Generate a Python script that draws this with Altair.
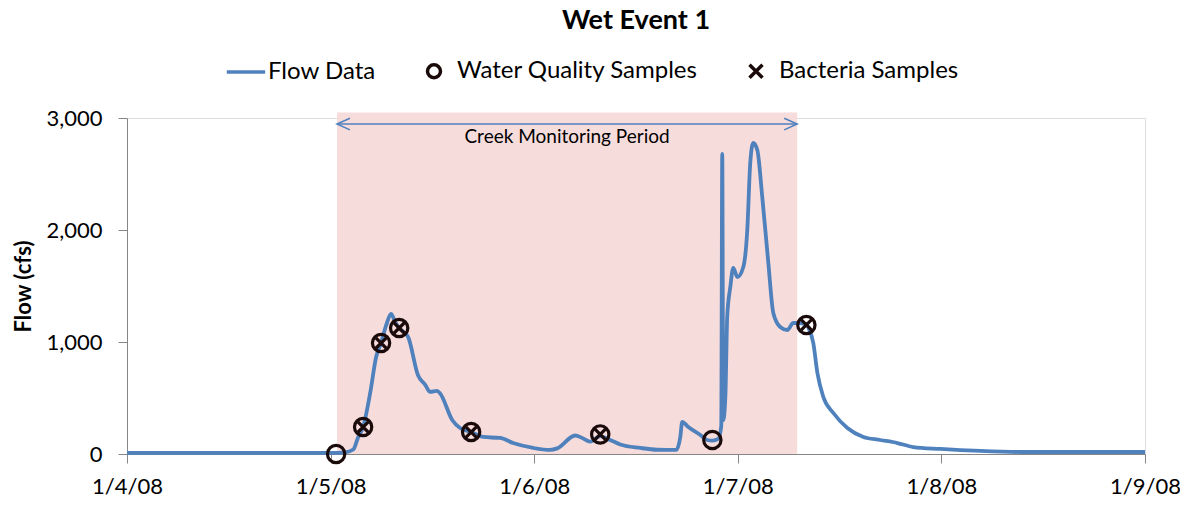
import altair as alt
import pandas as pd

# ---------------- data ----------------
flow_time = [
    "2008-01-04T00:00", "2008-01-04T12:00", "2008-01-05T00:00", "2008-01-05T01:42",
    "2008-01-05T02:40", "2008-01-05T03:15", "2008-01-05T03:50", "2008-01-05T04:40",
    "2008-01-05T05:22", "2008-01-05T05:57", "2008-01-05T06:33", "2008-01-05T07:08",
    "2008-01-05T07:36", "2008-01-05T08:05", "2008-01-05T09:08", "2008-01-05T10:19",
    "2008-01-05T11:08", "2008-01-05T11:44", "2008-01-05T12:33", "2008-01-05T12:55",
    "2008-01-05T14:20", "2008-01-05T15:16", "2008-01-05T16:34", "2008-01-05T17:59",
    "2008-01-05T19:59", "2008-01-05T21:31", "2008-01-05T23:53", "2008-01-06T01:53",
    "2008-01-06T02:43", "2008-01-06T04:50", "2008-01-06T05:40", "2008-01-06T06:36",
    "2008-01-06T07:47", "2008-01-06T08:57", "2008-01-06T10:09", "2008-01-06T12:30",
    "2008-01-06T14:30", "2008-01-06T16:45", "2008-01-06T17:13", "2008-01-06T17:27",
    "2008-01-06T18:10", "2008-01-06T19:35", "2008-01-06T20:24", "2008-01-06T21:00",
    "2008-01-06T21:42", "2008-01-06T22:03", "2008-01-06T22:10", "2008-01-06T22:17",
    "2008-01-06T22:32", "2008-01-06T22:45", "2008-01-06T23:07", "2008-01-06T23:28",
    "2008-01-06T23:57", "2008-01-07T00:39", "2008-01-07T01:07", "2008-01-07T01:28",
    "2008-01-07T01:49", "2008-01-07T02:18", "2008-01-07T02:53", "2008-01-07T03:36",
    "2008-01-07T04:11", "2008-01-07T05:00", "2008-01-07T05:50", "2008-01-07T06:33",
    "2008-01-07T08:05", "2008-01-07T08:18", "2008-01-07T08:54", "2008-01-07T09:23",
    "2008-01-07T10:05", "2008-01-07T11:16", "2008-01-07T12:55", "2008-01-07T14:48",
    "2008-01-07T16:48", "2008-01-07T18:49", "2008-01-07T20:41", "2008-01-07T23:53",
    "2008-01-08T04:36", "2008-01-08T09:19", "2008-01-08T16:24", "2008-01-09T00:00",
]
flow_cfs = [
    10, 10, 10, 15,
    40, 150, 241, 545,
    866, 991, 1150, 1250,
    1180, 1125, 1045, 700,
    620, 554, 563, 540,
    304, 232, 196, 152,
    143, 98, 54, 36,
    50, 165, 143, 110,
    160, 125, 85, 54,
    38, 36, 150, 286,
    241, 170, 125, 120,
    135, 250, 2680, 300,
    509, 1223, 1491, 1661,
    1580, 1670, 2000, 2598,
    2777, 2714, 2295, 1705,
    1259, 1134, 1107, 1170,
    1160, 1134, 991, 723,
    509, 366, 232, 152,
    125, 98, 62, 45,
    27, 18, 18, 18,
]

wq_time = ["2008-01-05T00:39", "2008-01-05T03:50", "2008-01-05T05:57", "2008-01-05T08:05",
           "2008-01-05T16:34", "2008-01-06T07:47", "2008-01-06T21:00", "2008-01-07T08:05"]
wq_cfs = [0, 241, 991, 1125, 196, 175, 125, 1152]

bact_time = ["2008-01-05T03:50", "2008-01-05T05:57", "2008-01-05T08:05",
             "2008-01-05T16:34", "2008-01-06T07:47", "2008-01-07T08:05"]
bact_cfs = [241, 991, 1125, 196, 175, 1152]

period_start = "2008-01-05T00:45"
period_end = "2008-01-07T07:00"
period_label = "Creek Monitoring Period"
period_arrow_cfs = 2946
period_text_cfs = 2830

series_names = ["Flow Data", "Water Quality Samples", "Bacteria Samples"]
series_colors = ["#4F81BD", "#1A0A0A", "#1A0A0A"]
X_PATH = "M-1,-1L1,1M1,-1L-1,1"
LINE_PATH = "M-2.8,0L3.1,0"
series_shapes = [LINE_PATH, "circle", X_PATH]

day_ticks = [alt.DateTime(year=2008, month=1, date=d) for d in range(4, 10)]

FONT = "Lato"

flow_df = pd.DataFrame({"t": flow_time, "cfs": flow_cfs, "series": "Flow Data"})
wq_df = pd.DataFrame({"t": wq_time, "cfs": wq_cfs, "series": "Water Quality Samples"})
bact_df = pd.DataFrame({"t": bact_time, "cfs": bact_cfs, "series": "Bacteria Samples"})
period_df = pd.DataFrame({"start": [period_start], "end": [period_end],
                          "y0": [0], "y1": [3050], "ya": [period_arrow_cfs],
                          "yt": [period_text_cfs], "label": [period_label]})

x_scale = alt.Scale(domain=[alt.DateTime(year=2008, month=1, date=4),
                            alt.DateTime(year=2008, month=1, date=9)], nice=False)
y_scale = alt.Scale(domain=[0, 3000], nice=False)

x_axis = alt.Axis(values=day_ticks, format="%-m/%-d/%y", title=None, grid=False,
                  labelFont=FONT, labelFontSize=22, labelColor="#000000",
                  tickSize=9, tickColor="#868686", domainColor="#868686",
                  labelPadding=13, labelFlush=False, labelOverlap=False)
y_axis = alt.Axis(values=[0, 1000, 2000, 3000], format=",.0f", title="Flow (cfs)",
                  grid=False, labelFont=FONT, labelFontSize=22, labelColor="#000000",
                  tickSize=9, tickColor="#868686", domainColor="#868686",
                  labelPadding=16, titleFont=FONT, titleFontSize=22,
                  titleFontWeight="bold", titleColor="#000000", titlePadding=10)

X = alt.X("t:T", scale=x_scale, axis=x_axis)
Y = alt.Y("cfs:Q", scale=y_scale, axis=y_axis)

legend = alt.Legend(title=None, orient="none", direction="horizontal",
                    legendX=106, legendY=-59, padding=0,
                    labelFont=FONT, labelFontSize=24, labelColor="#000000", labelLimit=0,
                    labelOffset=11, columnPadding=44,
                    symbolSize=169, symbolStrokeWidth=3.5,
                    symbolFillColor="transparent")

color_enc = alt.Color("series:N", scale=alt.Scale(domain=series_names, range=series_colors),
                      legend=legend)
shape_enc = alt.Shape("series:N", scale=alt.Scale(domain=series_names, range=series_shapes),
                      legend=legend)

shade = alt.Chart(period_df).mark_rect(color="#F7DCDC", opacity=1).encode(
    x=alt.X("start:T", scale=x_scale, axis=x_axis), x2="end:T",
    y=alt.Y("y0:Q", scale=y_scale, axis=y_axis), y2="y1:Q")

arrow_line = alt.Chart(period_df).mark_rule(color="#4F81BD", strokeWidth=1.5).encode(
    x="start:T", x2="end:T", y="ya:Q")

arrow_left = alt.Chart(period_df).mark_point(
    shape="M2,-0.9L0,0L2,0.9", filled=False, color="#4F81BD", strokeWidth=1.5,
    size=169, opacity=1).encode(x="start:T", y="ya:Q")
arrow_right = alt.Chart(period_df).mark_point(
    shape="M-2,-0.9L0,0L-2,0.9", filled=False, color="#4F81BD", strokeWidth=1.5,
    size=169, opacity=1).encode(x="end:T", y="ya:Q")

period_text = alt.Chart(period_df).mark_text(font=FONT, fontSize=19, color="#000000").encode(
    x=alt.X("mid:T"), y="yt:Q", text="label:N").transform_calculate(
    mid="(toDate(datum.start) + toDate(datum.end)) / 2")

flow_line = alt.Chart(flow_df).mark_line(strokeWidth=3.8, interpolate="monotone").encode(
    x=X, y=Y, color=color_enc)

wq_points = alt.Chart(wq_df).mark_point(filled=False, strokeWidth=3.2, size=300, opacity=1).encode(
    x=X, y=Y, color=color_enc, shape=shape_enc)

bact_points = alt.Chart(bact_df).mark_point(filled=False, strokeWidth=3.2, size=110, opacity=1).encode(
    x=X, y=Y, color=color_enc, shape=shape_enc)

chart = alt.layer(shade, arrow_line, arrow_left, arrow_right, period_text,
                  flow_line, wq_points, bact_points).properties(
    width=1018, height=336,
    title=alt.Title("Wet Event 1", font=FONT, fontSize=27, fontWeight="bold", color="#000000",
                    anchor="middle", offset=24),
    autosize=alt.AutoSizeParams(type="none"),
    padding={"left": 119, "top": 110, "right": 35, "bottom": 50},
).configure_view(
    stroke="#868686", strokeWidth=1
).configure(background="white")

chart.save("out.html", embed_options={"renderer": "svg", "actions": False})
